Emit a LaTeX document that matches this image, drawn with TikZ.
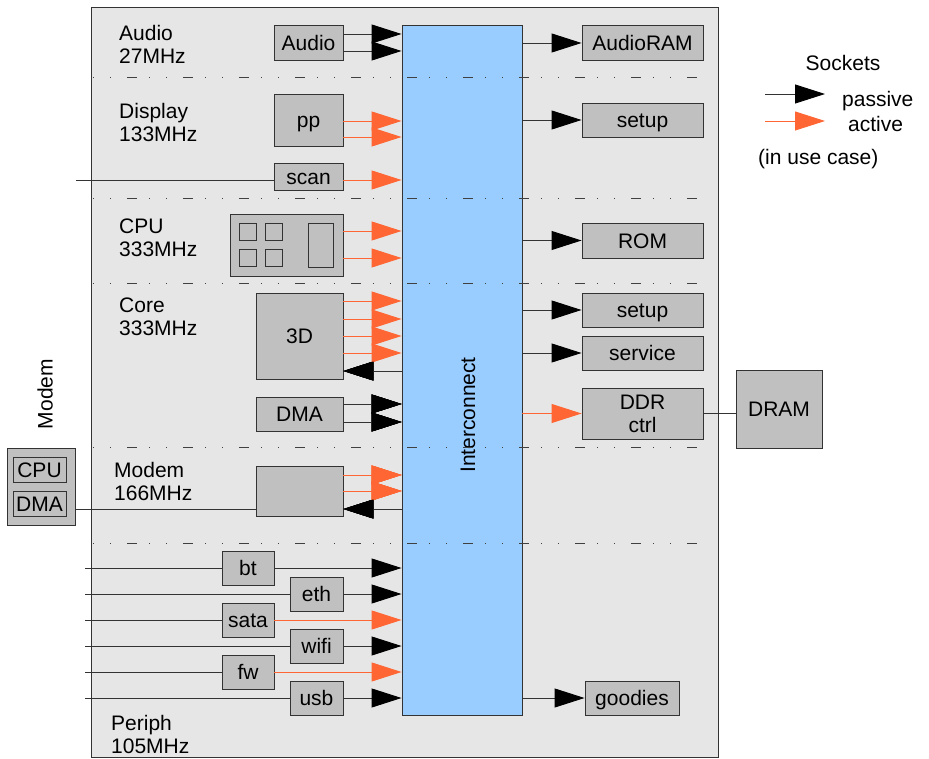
\documentclass[tikz,border=0pt]{standalone}
\usepackage{fontspec}
\setmainfont{Liberation Sans}
\usetikzlibrary{arrows.meta}
\definecolor{frm}{HTML}{E6E6E6}
\definecolor{blkgray}{HTML}{C0C0C0}
\definecolor{icblue}{HTML}{99CCFF}
\definecolor{sockorange}{HTML}{FF6633}
\newcommand{\sock}[4]{\draw[#1] (#2.east |- 0,#4) -- (#3.west |- 0,#4);}
\newcommand{\back}[3]{\draw[pasv] (#1.west |- 0,#3) -- (#2.east |- 0,#3);}

\begin{document}
\begin{tikzpicture}[x=1pt,y=-1pt,
  every node/.style={font=\fontsize{21}{23}\selectfont},
  box/.style={draw=black!80,fill=blkgray,line width=0.9pt,inner sep=0pt},
  blk/.style={box,text height=15.5pt,text depth=0pt},
  lbl/.style={anchor=north west,inner sep=0pt,align=left},
  wire/.style={draw=black!80,line width=0.9pt},
  pasv/.style={wire,-{Triangle[length=30pt,width=19pt,color=black]}},
  actv/.style={draw=sockorange,line width=0.9pt,-{Triangle[length=30pt,width=19pt]}},
  sep/.style={draw=black!75,line width=0.8pt,dash pattern=on 1pt off 16pt on 1pt off 16pt on 10pt off 12pt}]
  \useasboundingbox (0,0) rectangle (929,759);
  \draw[wire,fill=frm] (91,7) rectangle (718,757);
  \node[box,fill=icblue,minimum width=120,minimum height=690] (ic) at (462,370) {};
  \node[rotate=90,inner sep=0pt] (iclbl) at (468,415) {Interconnect};
  \foreach \y in {77,198,283,447,543}
    \draw[sep] (93,\y) -- (700,\y);

  % clock domains
  \node[lbl] (audiod) at (119,24.7) {Audio\\27MHz};
  \node[lbl] (dispd) at (119,102.7) {Display\\133MHz};
  \node[lbl] (cpud) at (119,218.6) {CPU\\333MHz};
  \node[lbl] (cored) at (119,297.6) {Core\\333MHz};
  \node[lbl] (modemd) at (114,461.7) {Modem\\166MHz};
  \node[lbl] (periphd) at (111,714.7) {Periph\\105MHz};

  % initiators
  \node[blk,minimum width=69,minimum height=35] (audio) at (308.5,42.5) {Audio};
  \node[blk,minimum width=69,minimum height=52] (pp) at (308.5,120) {pp};
  \node[blk,minimum width=69,minimum height=27] (scan) at (308.5,176.5) {scan};
  \node[blk,minimum width=113,minimum height=62] (cpu) at (286.5,245) {};
  \foreach \x in {247.5,274} \foreach \y in {231.5,258}
    \draw[wire,fill=blkgray] (\x-8.5,\y-8.5) rectangle (\x+8.5,\y+8.5);
  \draw[wire,fill=blkgray] (308,223) rectangle (333,267);
  \node[blk,minimum width=87,minimum height=86] (gfx) at (299.5,336) {3D};
  \node[blk,minimum width=87,minimum height=34] (dma) at (299.5,414) {DMA};
  \node[blk,minimum width=87,minimum height=50] (modblk) at (299.5,491) {};
  \node[blk,minimum width=52,minimum height=34] (bt) at (248,568) {bt};
  \node[blk,minimum width=53,minimum height=34] (eth) at (316.5,594) {eth};
  \node[blk,minimum width=52,minimum height=34] (sata) at (248,620) {sata};
  \node[blk,minimum width=53,minimum height=34] (wifi) at (316.5,646) {wifi};
  \node[blk,minimum width=52,minimum height=34] (fw) at (248,672) {fw};
  \node[blk,minimum width=53,minimum height=34] (usb) at (316.5,698) {usb};

  % targets
  \node[blk,minimum width=121,minimum height=35] (arom) at (642.5,43) {AudioRAM};
  \node[blk,minimum width=121,minimum height=34] (setupa) at (642.5,120) {setup};
  \node[blk,minimum width=121,minimum height=35] (rom) at (642.5,240.5) {ROM};
  \node[blk,minimum width=121,minimum height=34] (setupb) at (642.5,310) {setup};
  \node[blk,minimum width=121,minimum height=34] (service) at (642.5,353) {service};
  \node[box,minimum width=121,minimum height=51,align=center] (ddr) at (642.5,413.5) {DDR\\ctrl};
  \node[blk,minimum width=86,minimum height=78] (dram) at (779,409) {DRAM};
  \node[blk,minimum width=94,minimum height=34] (goodies) at (632,698) {goodies};

  % external modem
  \node[rotate=90,inner sep=0pt] (modemlbl) at (45,394) {Modem};
  \node[blk,minimum width=68,minimum height=77] (modem) at (41,486.5) {};
  \node[blk,minimum width=53,minimum height=25] (mcpu) at (39.5,469.5) {CPU};
  \node[blk,minimum width=53,minimum height=25] (mdma) at (39.5,503.5) {DMA};

  % sockets
  \sock{pasv}{audio}{ic}{34} \sock{pasv}{audio}{ic}{51}
  \sock{actv}{pp}{ic}{121} \sock{actv}{pp}{ic}{137}
  \coordinate (scanin) at (76,180);
  \draw[wire] (scanin) -- (scan.west |- scanin);
  \sock{actv}{scan}{ic}{180}
  \sock{actv}{cpu}{ic}{231} \sock{actv}{cpu}{ic}{258}
  \foreach \y in {301,319,336,353}
    \sock{actv}{gfx}{ic}{\y}
  \back{ic}{gfx}{371}
  \sock{pasv}{dma}{ic}{404} \sock{pasv}{dma}{ic}{422}
  \sock{actv}{modblk}{ic}{475} \sock{actv}{modblk}{ic}{491}
  \back{ic}{modblk}{509}
  \draw[wire] (modem.east |- 0,509) -- (modblk.west |- 0,509);
  \foreach \n/\y in {bt/568,eth/594,sata/620,wifi/646,fw/672,usb/698} {
    \coordinate (\n-in) at (85,\y);
    \draw[wire] (\n-in) -- (\n.west |- \n-in);}
  \sock{pasv}{bt}{ic}{568} \sock{pasv}{eth}{ic}{594}
  \sock{actv}{sata}{ic}{620} \sock{pasv}{wifi}{ic}{646}
  \sock{actv}{fw}{ic}{672} \sock{pasv}{usb}{ic}{698}

  \draw[pasv] (ic.east |- arom) -- (arom);
  \draw[pasv] (ic.east |- setupa) -- (setupa);
  \draw[pasv] (ic.east |- rom) -- (rom);
  \draw[pasv] (ic.east |- setupb) -- (setupb);
  \draw[pasv] (ic.east |- service) -- (service);
  \draw[actv] (ic.east |- ddr) -- (ddr);
  \draw[pasv] (ic.east |- goodies) -- (goodies);
  \draw[wire] (ddr.east) -- (ddr.east -| dram.west);

  % legend
  \node[anchor=base,inner sep=0pt] (sockets) at (843,71) {Sockets};
  \coordinate (lpa) at (765,94); \coordinate (lpb) at (825,94);
  \coordinate (laa) at (765,121); \coordinate (lab) at (825,121);
  \draw[pasv] (lpa) -- (lpb);
  \draw[actv] (laa) -- (lab);
  \node[anchor=base west,inner sep=0pt] (passive) at (842,107) {passive};
  \node[anchor=base west,inner sep=0pt] (active) at (848,132) {active};
  \node[anchor=base west,inner sep=0pt] (usecase) at (758,165) {(in use case)};
\end{tikzpicture}
\end{document}
